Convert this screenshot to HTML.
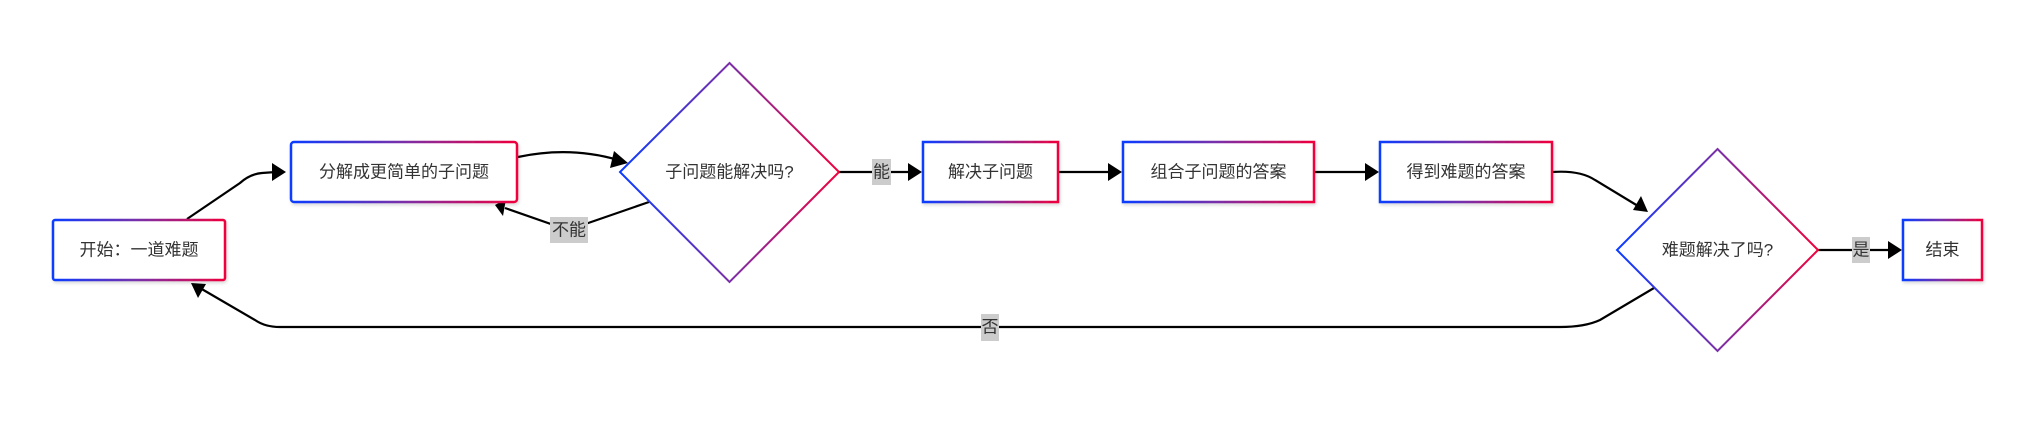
<!DOCTYPE html>
<html><head><meta charset="utf-8"><style>
html,body{margin:0;padding:0;background:#fff;}
svg{display:block;}
text{font-family:"Liberation Sans","Noto Sans CJK SC",sans-serif;font-size:17px;fill:#333;}
</style></head><body>
<svg width="2024" height="432" viewBox="0 0 2024 432" xmlns="http://www.w3.org/2000/svg">
<defs>
<linearGradient id="g" x1="0" y1="0" x2="1" y2="0">
<stop offset="0" stop-color="#0a3cff"/><stop offset="0.5" stop-color="#7b2fa8"/><stop offset="1" stop-color="#f0003c"/>
</linearGradient>
<linearGradient id="gd" x1="0" y1="0.5" x2="1" y2="0.5">
<stop offset="0" stop-color="#0a3cff"/><stop offset="0.5" stop-color="#7b2fa8"/><stop offset="1" stop-color="#f0003c"/>
</linearGradient>
<filter id="sh" x="-10%" y="-10%" width="120%" height="130%"><feDropShadow dx="1" dy="2" stdDeviation="1.5" flood-color="#000" flood-opacity="0.15"/></filter>
<marker id="a" viewBox="0 0 10 10" refX="9" refY="5" markerWidth="7" markerHeight="7" markerUnits="userSpaceOnUse" orient="auto" overflow="visible">
<path d="M0,0 L10,5 L0,10 z" fill="#000" transform="scale(1.5) translate(-3.5,-1.7)"/>
</marker>
</defs>
<g fill="none" stroke="#000" stroke-width="2.2">
<path d="M187,219 L240,183 Q250,174 262,173 L276,172" />
<path d="M518,157 Q570,146 618,160" />
<path d="M649,202 L568,230 L505,208" />
<path d="M839,172 L912,172" />
<path d="M1058,172 L1112,172" />
<path d="M1314,172 L1369,172" />
<path d="M1552,172 Q1580,170 1595,180 L1638,206" />
<path d="M1818,250 L1892,250" />
<path d="M1654,288 L1600,320 Q1585,327 1560,327 L280,327 Q265,327 255,320 L200,288" />
</g>
<g fill="#000">
<path d="M286,172 L272,163 L272,181 z"/>
<path d="M628,163 L614,151 L610,168 z"/>
<path d="M495,205 L506,199 L503,216 z"/>
<path d="M922,172 L908,163 L908,181 z"/>
<path d="M1122,172 L1108,163 L1108,181 z"/>
<path d="M1379,172 L1365,163 L1365,181 z"/>
<path d="M1648,212 L1633,210 L1641,196 z"/>
<path d="M1902,250 L1888,241 L1888,259 z"/>
<path d="M191,283 L206,284 L198,298 z"/>
</g>
<g filter="url(#sh)" fill="#fff" stroke="url(#g)" stroke-width="2.5">
<rect x="53" y="220" width="172" height="60" rx="2"/>
<rect x="291" y="142" width="226" height="60" rx="3"/>
<rect x="923" y="142" width="135" height="60"/>
<rect x="1123" y="142" width="191" height="60"/>
<rect x="1380" y="142" width="172" height="60"/>
<rect x="1903" y="220" width="79" height="60"/>
</g>
<g fill="#fff" stroke="url(#gd)" stroke-width="2">
<polygon points="729.5,63 839,172 729.5,282 620,172"/>
<polygon points="1717.5,149 1818,250 1717.5,351 1617,250"/>
</g>
<g text-anchor="middle" dominant-baseline="central">
<text x="139" y="250">开始：一道难题</text>
<text x="404" y="172">分解成更简单的子问题</text>
<text x="729.5" y="172">子问题能解决吗?</text>
<text x="990.5" y="172">解决子问题</text>
<text x="1218.5" y="172">组合子问题的答案</text>
<text x="1466" y="172">得到难题的答案</text>
<text x="1717.5" y="250">难题解决了吗?</text>
<text x="1942.5" y="250">结束</text>
</g>
<g>
<rect x="550" y="217" width="38" height="26" fill="#ccc"/>
<rect x="872" y="159" width="19" height="26" fill="#ccc"/>
<rect x="1852" y="237" width="18" height="26" fill="#ccc"/>
<rect x="981" y="314" width="18" height="27" fill="#ccc"/>
</g>
<g text-anchor="middle" dominant-baseline="central">
<text x="569" y="230">不能</text>
<text x="881.5" y="172">能</text>
<text x="1861" y="250">是</text>
<text x="990" y="327">否</text>
</g>
</svg>
</body></html>
